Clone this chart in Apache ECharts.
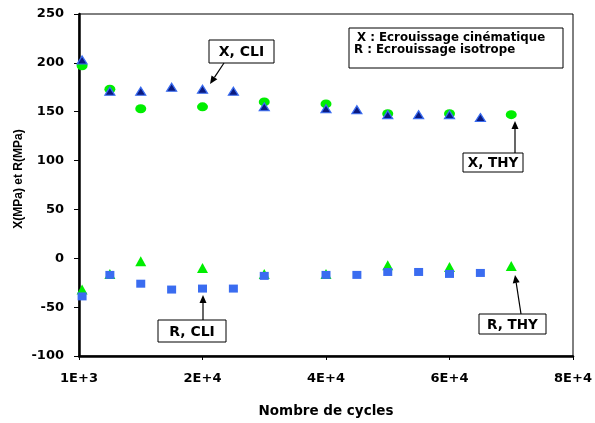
<!DOCTYPE html>
<html><head><meta charset="utf-8">
<script src="https://cdn.jsdelivr.net/npm/echarts@6/dist/echarts.min.js"></script>
<style>html,body{margin:0;padding:0;background:#fff}#c{width:595px;height:423px}</style>
</head><body><div id="c"></div>
<script>
// ---- data ----
const cyclesCLI = [1500, 6000, 11000, 16000, 21000, 26000, 31000, 41000, 46000, 51000, 56000, 61000, 66000];
const cyclesTHY = [1500, 6000, 11000, 21000, 31000, 41000, 51000, 61000, 71000];
const xCLI = [203, 171, 171, 175, 173, 171, 155, 153, 152, 147, 147, 147, 144];
const xTHY = [197, 173, 153, 155, 160, 158, 148, 148, 147];
const rCLI = [-39, -17, -26, -32, -31, -31, -18, -17, -17, -14, -14, -16, -15];
const rTHY = [-32, -16, -3, -10, -16, -16, -7, -9, -8];
const xTickLabels = ['1E+3', '2E+4', '4E+4', '6E+4', '8E+4'];
const yTickLabels = ['-100', '-50', '0', '50', '100', '150', '200', '250'];
const legendLines = ['X : Ecrouissage cinématique', 'R : Ecrouissage isotrope'];
const yTitle = 'X(MPa) et R(MPa)';

const pair = (xs, ys) => xs.map((x, i) => [x, ys[i]]);
const F = 'DejaVu Sans';
const chart = echarts.init(document.getElementById('c'), null, {renderer: 'canvas'});

function arrow(x1, y1, x2, y2) {
  const a = Math.atan2(y2 - y1, x2 - x1), L = 8, W = 3.5;
  const bx = x2 - L * Math.cos(a), by = y2 - L * Math.sin(a);
  const px = -Math.sin(a) * W, py = Math.cos(a) * W;
  return [
    {type: 'line', shape: {x1, y1, x2: bx, y2: by}, style: {stroke: '#000', lineWidth: 1.2}, z: 100},
    {type: 'polygon', shape: {points: [[x2, y2], [bx + px, by + py], [bx - px, by - py]]}, style: {fill: '#000'}, z: 100}
  ];
}
function box(x, y, w, h, text, size) {
  return [
    {type: 'rect', shape: {x, y, width: w, height: h}, style: {fill: '#fff', stroke: '#000', lineWidth: 1}, z: 100},
    {type: 'text', x: x + w / 2, y: y + h / 2 + 1, style: {text, fill: '#000', font: 'bold ' + size + 'px "' + F + '"', align: 'center', verticalAlign: 'middle'}, z: 101}
  ];
}

const graphics = [].concat(
  box(209, 40, 65, 23, 'X, CLI', 14), arrow(224, 63, 210, 84),
  box(463, 153, 60, 19, 'X, THY', 13.5), arrow(515, 153, 515, 121),
  box(158, 320, 68, 22, 'R, CLI', 14), arrow(203, 320, 203, 295),
  box(479, 314, 67, 20, 'R, THY', 13.5), arrow(521, 314, 515, 275),
  [{type: 'rect', shape: {x: 349, y: 28, width: 214, height: 40}, style: {fill: '#fff', stroke: '#000', lineWidth: 1}, z: 100},
   {type: 'text', x: 357, y: 38, style: {text: legendLines[0], fill: '#000', font: 'bold 11.8px "' + F + '"', align: 'left', verticalAlign: 'middle'}, z: 101},
   {type: 'text', x: 354, y: 50, style: {text: legendLines[1], fill: '#000', font: 'bold 11.8px "' + F + '"', align: 'left', verticalAlign: 'middle'}, z: 101},
   {type: 'text', x: 19, y: 179, rotation: Math.PI / 2, style: {text: yTitle, fill: '#000', font: 'bold 12px "Liberation Sans"', align: 'center', verticalAlign: 'middle'}, z: 101}]
);

chart.setOption({
  animation: false,
  backgroundColor: '#fff',
  grid: {left: 79, right: 22, top: 14, bottom: 66, containLabel: false, show: true, borderColor: '#000', borderWidth: 1},
  xAxis: {
    type: 'value', min: 1000, max: 81000, interval: 20000,
    name: 'Nombre de cycles', nameLocation: 'middle', nameGap: 48,
    nameTextStyle: {fontFamily: F, fontWeight: 'bold', fontSize: 13.5, color: '#000'},
    axisLine: {show: true, onZero: false, lineStyle: {color: '#000', width: 2.5}},
    axisTick: {show: true, inside: false, length: 4, lineStyle: {color: '#000', width: 1}},
    axisLabel: {margin: 16, fontFamily: F, fontWeight: 'bold', fontSize: 13, color: '#000', showMinLabel: true, showMaxLabel: true,
      formatter: (v) => xTickLabels[Math.round((v - 1000) / 20000)]},
    splitLine: {show: false}
  },
  yAxis: {
    type: 'value', min: -100, max: 250, interval: 50,
    axisLine: {show: true, onZero: false, lineStyle: {color: '#000', width: 2.5}},
    axisTick: {show: true, inside: false, length: 5, lineStyle: {color: '#000', width: 1}},
    axisLabel: {margin: 15, fontFamily: F, fontWeight: 'bold', fontSize: 13, color: '#000',
      formatter: (v) => yTickLabels[Math.round((v + 100) / 50)]},
    splitLine: {show: false}
  },
  series: [
    {name: 'X, THY', type: 'scatter', data: pair(cyclesTHY, xTHY), symbol: 'circle', symbolSize: [11, 9],
      itemStyle: {color: '#00ee00', opacity: 1}},
    {name: 'X, CLI', type: 'scatter', data: pair(cyclesCLI, xCLI), symbol: 'triangle', symbolSize: [10, 8],
      itemStyle: {color: '#0a1a80', borderColor: '#3a6cf0', borderWidth: 1.2, opacity: 1}},
    {name: 'R, THY', type: 'scatter', data: pair(cyclesTHY, rTHY), symbol: 'triangle', symbolSize: [11, 10],
      itemStyle: {color: '#00ee00', opacity: 1}},
    {name: 'R, CLI', type: 'scatter', data: pair(cyclesCLI, rCLI), symbol: 'rect', symbolSize: [9, 8],
      itemStyle: {color: '#3a6cf0', opacity: 1}}
  ],
  graphic: graphics
});
</script>
</body></html>
